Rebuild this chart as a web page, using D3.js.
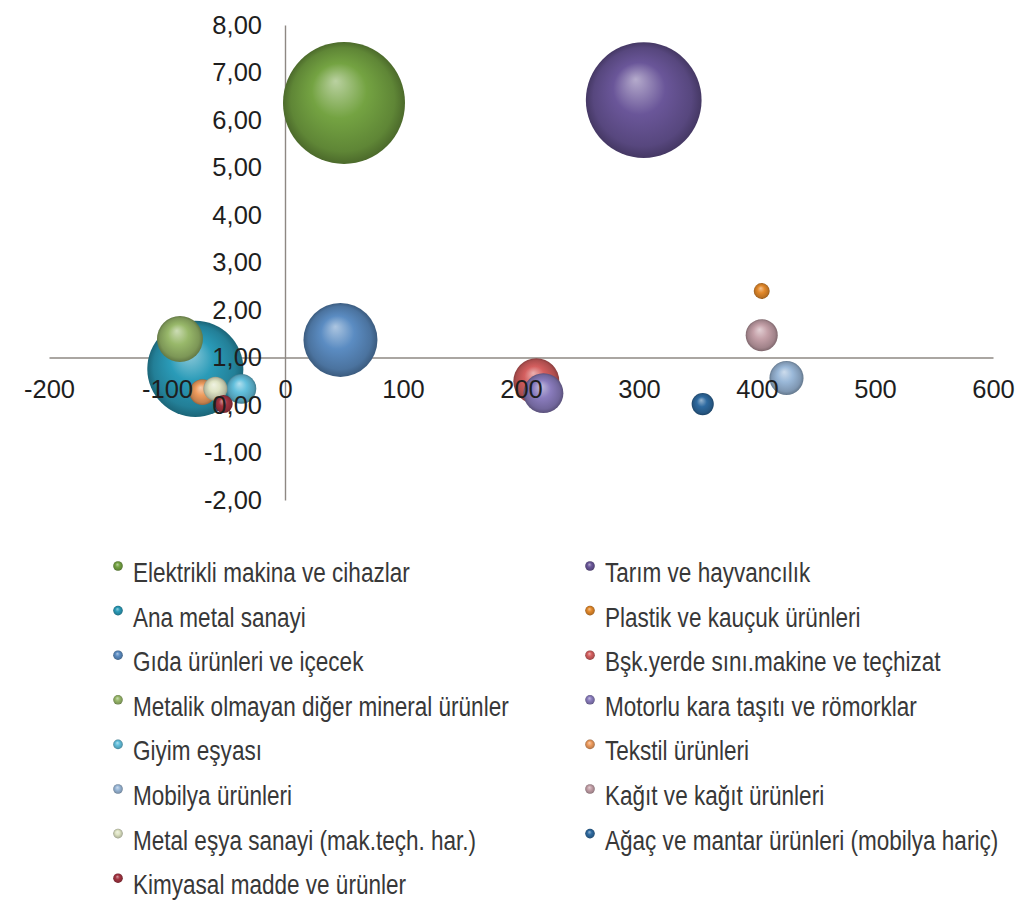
<!DOCTYPE html>
<html><head><meta charset="utf-8">
<script src="https://cdn.jsdelivr.net/npm/d3@7/dist/d3.min.js"></script>
<style>
body{margin:0;background:#fff}
svg{display:block}
</style>
</head><body>
<svg id="chart" width="1031" height="909"></svg>
<script>
// ---- data (series order as in the legend, row by row) ----
const names = [
  "Elektrikli makina ve cihazlar",
  "Tarım ve hayvancılık",
  "Ana metal sanayi",
  "Plastik ve kauçuk ürünleri",
  "Gıda ürünleri ve içecek",
  "Bşk.yerde sını.makine ve teçhizat",
  "Metalik olmayan diğer mineral ürünler",
  "Motorlu kara taşıtı ve römorklar",
  "Giyim eşyası",
  "Tekstil ürünleri",
  "Mobilya ürünleri",
  "Kağıt ve kağıt ürünleri",
  "Metal eşya sanayi (mak.teçh. har.)",
  "Ağaç ve mantar ürünleri (mobilya hariç)",
  "Kimyasal madde ve ürünler"
];
const xValues = [50, 304, -76, 404, 47, 213, -89, 219, -37, -70, 425, 404, -59, 354, -52];
const yValues = [6.36, 6.42, 0.76, 2.40, 1.37, 0.50, 1.39, 0.25, 0.34, 0.27, 0.57, 1.47, 0.34, 0.02, 0.02];
const sizes   = [100, 90, 62, 1.7, 36.8, 14.2, 14.2, 10.7, 6.0, 4.5, 7.8, 6.9, 3.9, 3.3, 2.2];
const colors  = ["#74a342", "#6a5699", "#2a9bb8", "#e3892b", "#5b8cc2", "#d45f5f", "#98b86a",
                 "#8a7cbd", "#62bfdc", "#ee9c5e", "#9ab8d8", "#c4a0a8", "#dfe4c4", "#2e6aa0", "#a33340"];
const xTicks = [-200, -100, 0, 100, 200, 300, 400, 500, 600];
const yTicks = [-2, -1, 0, 1, 2, 3, 4, 5, 6, 7, 8];
const xCross = 1; // horizontal axis crosses the vertical axis at y = 1

const svg = d3.select("#chart");
const x = d3.scaleLinear().domain([-200, 600]).range([49, 993]);
const y = d3.scaleLinear().domain([-2, 8]).range([500, 25]);
const r = d3.scaleSqrt().domain([0, 100]).range([0, 61]);
const locale = d3.formatLocale({decimal: ",", thousands: ".", grouping: [3], currency: ["", ""], minus: "-"});
const fmtY = locale.format(".2f");
const fmtX = locale.format("d");

// gradients for 3D look
const defs = svg.append("defs");
colors.forEach((c, i) => {
  const g = defs.append("radialGradient").attr("id", "g" + i)
    .attr("cx", "50%").attr("cy", "50%").attr("r", "50%")
    .attr("fx", "43%").attr("fy", "32%");
  const base = d3.rgb(c);
  g.append("stop").attr("offset", "0%").attr("stop-color", d3.interpolateRgb(c, "#ffffff")(0.5));
  g.append("stop").attr("offset", "45%").attr("stop-color", base.formatHex());
  g.append("stop").attr("offset", "85%").attr("stop-color", base.darker(0.55).formatHex());
  g.append("stop").attr("offset", "100%").attr("stop-color", base.darker(1.2).formatHex());
});

const axisColor = "#8e8883";
const tickFont = "'Liberation Sans', Arial, sans-serif";

// axis lines (below bubbles)
const xLine = svg.append("g").attr("transform", `translate(0,${y(xCross)})`)
  .call(d3.axisBottom(x).tickValues([]).tickSizeOuter(0));
xLine.select(".domain").attr("stroke", axisColor).attr("stroke-width", 1.4);
const yLine = svg.append("g").attr("transform", `translate(${x(0)},0)`)
  .call(d3.axisLeft(y).tickValues([]).tickSizeOuter(0));
yLine.select(".domain").attr("stroke", axisColor).attr("stroke-width", 1.4);

// bubbles
const data = names.map((n, i) => ({name: n, x: xValues[i], y: yValues[i], s: sizes[i], i}));
svg.append("g").selectAll("circle").data(data).join("circle")
  .attr("cx", d => x(d.x)).attr("cy", d => y(d.y)).attr("r", d => r(d.s))
  .attr("fill", d => `url(#g${d.i})`);

// tick labels (above bubbles)
const xAx = svg.append("g").attr("transform", `translate(0,${y(xCross)})`)
  .call(d3.axisBottom(x).tickValues(xTicks).tickSize(0).tickPadding(22).tickFormat(fmtX));
xAx.select(".domain").remove();
xAx.selectAll("text").attr("font-family", tickFont).attr("font-size", 25.5).attr("fill", "#1e1e1e");

const yAx = svg.append("g").attr("transform", `translate(${x(0)},0)`)
  .call(d3.axisLeft(y).tickValues(yTicks).tickSize(0).tickPadding(23).tickFormat(fmtY));
yAx.select(".domain").remove();
yAx.selectAll("text").attr("font-family", tickFont).attr("font-size", 25.5).attr("fill", "#1e1e1e");

// legend
const legX = [118, 590], legTextDx = 15, legY0 = 572, legDy = 44.6;
const leg = svg.append("g").selectAll("g").data(data).join("g")
  .attr("transform", d => `translate(${legX[d.i % 2]},${legY0 + Math.floor(d.i / 2) * legDy})`);
leg.append("circle").attr("cx", 0).attr("cy", -6).attr("r", 4.8).attr("fill", d => `url(#g${d.i})`);
leg.append("text")
  .attr("transform", `translate(${legTextDx},0) scale(0.82,1)`)
  .attr("dy", "0.36em")
  .attr("font-family", "'Liberation Sans', Arial, sans-serif")
  .attr("font-size", 27.5).attr("fill", "#383838")
  .text(d => d.name);
</script>
</body></html>
